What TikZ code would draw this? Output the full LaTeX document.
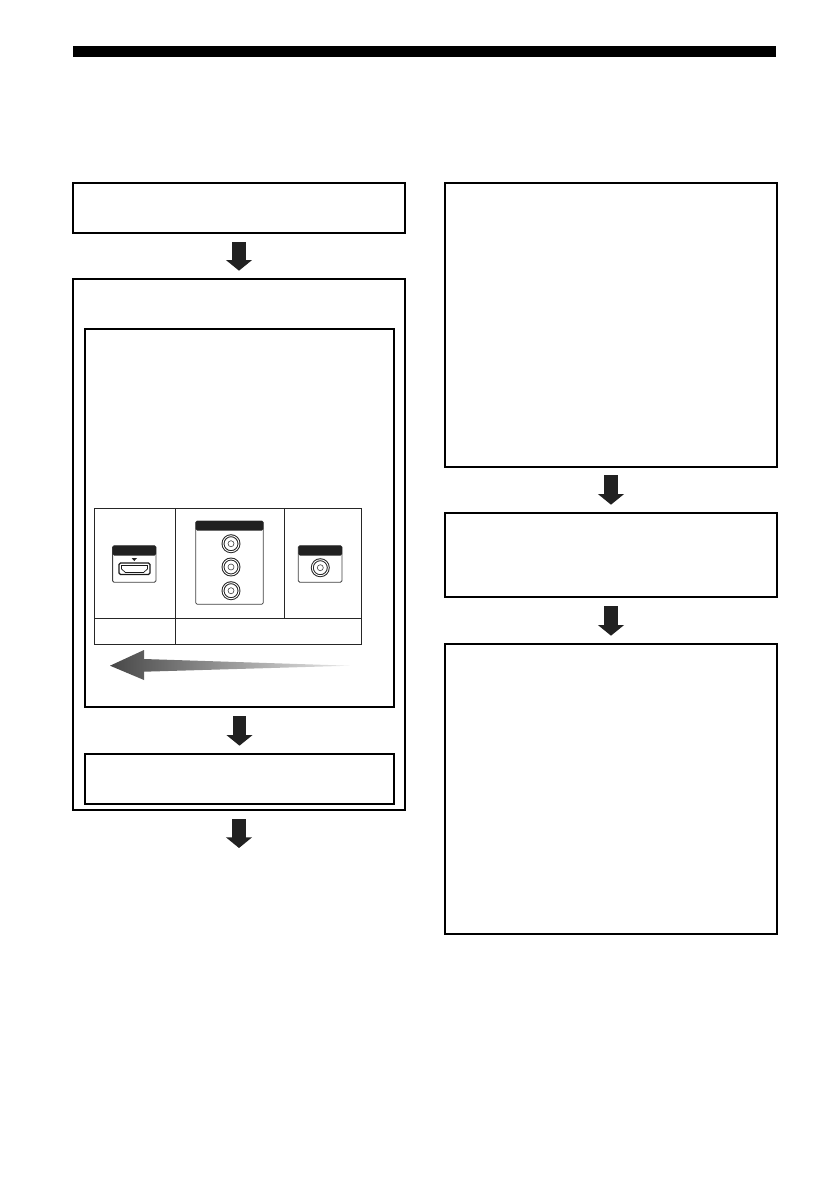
\documentclass[tikz,border=0pt]{standalone}
\usetikzlibrary{arrows.meta}
\definecolor{darkink}{gray}{0.13}
\begin{document}
\begin{tikzpicture}[
    x=1pt, y=-1pt,
    flowbox/.style={rectangle, draw=black, fill=none, line width=2pt, outer sep=0pt, inner sep=0pt},
    cellbox/.style={rectangle, draw=black!85, line width=0.8pt, outer sep=0pt, inner sep=0pt},
    panelbox/.style={rectangle, draw=black!75, fill=white, line width=0.8pt, rounded corners=1.5pt, outer sep=0pt, inner sep=0pt},
    panelbar/.style={fill=darkink, rounded corners=1.5pt},
    jackring/.style={circle, draw=black!85, line width=1pt, double=white, double distance=0.9pt, inner sep=0pt, minimum size=16pt, outer sep=0pt},
    jackhole/.style={circle, draw=black!75, line width=0.6pt, inner sep=0pt, minimum size=6pt, outer sep=0pt},
    flowarrow/.style={draw=darkink, line width=13.3pt, -{Triangle[length=10.7pt, width=25.6pt]}}
]
    \useasboundingbox (0,0) rectangle (838,1192);
    % Top rule
    \node[fill=black, inner sep=0pt, minimum width=702.7pt, minimum height=10.7pt] (toprule) at (424.65,51.35) {};
    % Left column
    \node[flowbox, minimum width=332pt, minimum height=50pt] (start) at (239,208) {};
    \node[flowbox, minimum width=332pt, minimum height=531pt] (group) at (239,544.5) {};
    \node[flowbox, line width=1.8pt, minimum width=309pt, minimum height=378pt] (upper) at (239.5,518) {};
    \node[flowbox, line width=1.8pt, minimum width=309pt, minimum height=50pt] (lower) at (239.5,779) {};
    \coordinate (leftend) at (239,848);
    % Right column
    \node[flowbox, minimum width=332pt, minimum height=284pt] (first) at (611,325) {};
    \node[flowbox, minimum width=332pt, minimum height=84pt] (second) at (611,555) {};
    \node[flowbox, minimum width=332pt, minimum height=290pt] (third) at (611,789) {};
    % Table cells
    \node[cellbox, minimum width=81pt, minimum height=110pt] (cella) at (134.8,563.3) {};
    \node[cellbox, minimum width=109pt, minimum height=110pt] (cellb) at (229.8,563.3) {};
    \node[cellbox, minimum width=77.4pt, minimum height=110pt] (cellc) at (323,563.3) {};
    \node[cellbox, minimum width=81pt, minimum height=26pt] (celld) at (134.8,631.3) {};
    \node[cellbox, minimum width=186.4pt, minimum height=26pt] (celle) at (268.5,631.3) {};
    % HDMI panel
    \node[panelbox, minimum width=43.4pt, minimum height=36.6pt] (hdmi) at (134.3,564) {};
    \fill[panelbar] (hdmi.north west) rectangle (156,555.5);
    \fill[darkink] (131.6,558) -- (137,558) -- (134.3,561) -- cycle;
    \draw[black!90, line width=1.3pt, rounded corners=1.5pt, fill=white]
        (119,563) -- (150,563) -- (150,574.5) -- (119,574.5) -- cycle;
    \draw[black!90, line width=0.7pt]
        (121.5,565.5) -- (147.5,565.5) -- (147.5,569) -- (143.5,572.5) -- (125.5,572.5) -- (121.5,569) -- cycle;
    % Component panel
    \node[panelbox, minimum width=67.6pt, minimum height=83.3pt] (comp) at (229.5,562.65) {};
    \fill[panelbar] (comp.north west) rectangle (263.3,530.5);
    \node[jackring] (compa) at (231,543.7) {};
    \node[jackring] (compb) at (231,567) {};
    \node[jackring] (compc) at (231,590.7) {};
    \node[jackhole] at (compa) {};
    \node[jackhole] at (compb) {};
    \node[jackhole] at (compc) {};
    % Composite panel
    \node[panelbox, minimum width=43.7pt, minimum height=36.6pt] (video) at (320.15,564) {};
    \fill[panelbar] (video.north west) rectangle (342,555.5);
    \node[jackring] (videoa) at (320.3,567.7) {};
    \node[jackhole] at (videoa) {};
    % Quality arrow
    \shade[left color=black!72, right color=black!8]
        (110,665.7) -- (144,650) -- (144,659) -- (350,665.7) -- (144,671.7) -- (144,680) -- cycle;
    % Flow arrows
    \draw[flowarrow, shorten <=9pt, shorten >=8.3pt] (start.south) -- (group.north);
    \draw[flowarrow, shorten <=9pt, shorten >=8.3pt] (upper.south) -- (lower.north);
    \draw[flowarrow, shorten <=9pt] (group.south) -- (leftend);
    \draw[flowarrow, shorten <=8pt, shorten >=8.3pt] (first.south) -- (second.north);
    \draw[flowarrow, shorten <=9pt, shorten >=8.3pt] (second.south) -- (third.north);
\end{tikzpicture}
\end{document}
